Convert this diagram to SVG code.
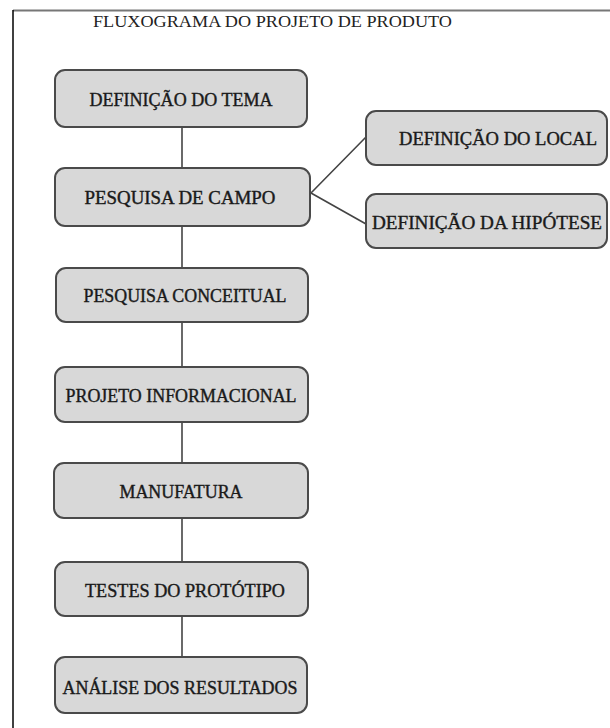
<svg xmlns="http://www.w3.org/2000/svg" width="610" height="728" viewBox="0 0 610 728">
<style>
.box{fill:#d8d8d8;stroke:#4a4a4a;stroke-width:2}
.lbl{font-family:"Liberation Serif","Times New Roman",serif;font-size:18.5px;fill:#1a1a1a;text-anchor:middle;stroke:#1a1a1a;stroke-width:0.4}
.title{font-family:"Liberation Serif","Times New Roman",serif;font-size:17px;fill:#222}
.con{stroke:#444;stroke-width:1.6;fill:none}
</style>
<rect x="0" y="0" width="610" height="728" fill="#fff"/>
<g id="frame">
<line x1="13" y1="10.5" x2="610" y2="10.5" stroke="#777" stroke-width="2"/>
<line x1="13" y1="10" x2="13" y2="728" stroke="#000" stroke-width="1.5"/>
</g>
<text class="title" x="93" y="27" textLength="359" lengthAdjust="spacingAndGlyphs">FLUXOGRAMA DO PROJETO DE PRODUTO</text>
<g id="connectors">
<line class="con" x1="182" y1="127" x2="182" y2="168"/>
<line class="con" x1="182" y1="226" x2="182" y2="268"/>
<line class="con" x1="182" y1="322" x2="182" y2="367"/>
<line class="con" x1="182" y1="422" x2="182" y2="463"/>
<line class="con" x1="182" y1="518" x2="182" y2="562"/>
<line class="con" x1="182" y1="616" x2="182" y2="657"/>
<polyline class="con" points="366,137 311,193 366,224"/>
</g>
<g id="n1"><rect class="box" x="55" y="70" width="252" height="57" rx="10"/><text class="lbl" x="181" y="106" textLength="183" lengthAdjust="spacingAndGlyphs">DEFINIÇÃO DO TEMA</text></g>
<g id="n2"><rect class="box" x="55" y="168" width="255" height="58" rx="10"/><text class="lbl" x="180" y="204" textLength="191" lengthAdjust="spacingAndGlyphs">PESQUISA DE CAMPO</text></g>
<g id="n3"><rect class="box" x="56" y="268" width="252" height="54" rx="10"/><text class="lbl" x="185" y="302" textLength="203" lengthAdjust="spacingAndGlyphs">PESQUISA CONCEITUAL</text></g>
<g id="n4"><rect class="box" x="55" y="367" width="253" height="55" rx="10"/><text class="lbl" x="181" y="402" textLength="231" lengthAdjust="spacingAndGlyphs">PROJETO INFORMACIONAL</text></g>
<g id="n5"><rect class="box" x="54" y="463" width="254" height="55" rx="10"/><text class="lbl" x="181" y="498" textLength="123" lengthAdjust="spacingAndGlyphs">MANUFATURA</text></g>
<g id="n6"><rect class="box" x="55" y="562" width="253" height="54" rx="10"/><text class="lbl" x="185" y="597" textLength="200" lengthAdjust="spacingAndGlyphs">TESTES DO PROTÓTIPO</text></g>
<g id="n7"><rect class="box" x="55" y="657" width="252" height="56" rx="10"/><text class="lbl" x="180" y="694" textLength="235" lengthAdjust="spacingAndGlyphs">ANÁLISE DOS RESULTADOS</text></g>
<g id="n8"><rect class="box" x="366" y="111" width="241" height="54" rx="10"/><text class="lbl" x="498" y="145" textLength="198" lengthAdjust="spacingAndGlyphs">DEFINIÇÃO DO LOCAL</text></g>
<g id="n9"><rect class="box" x="366" y="194" width="241" height="54" rx="10"/><text class="lbl" x="487" y="229" textLength="230" lengthAdjust="spacingAndGlyphs">DEFINIÇÃO DA HIPÓTESE</text></g>
</svg>
